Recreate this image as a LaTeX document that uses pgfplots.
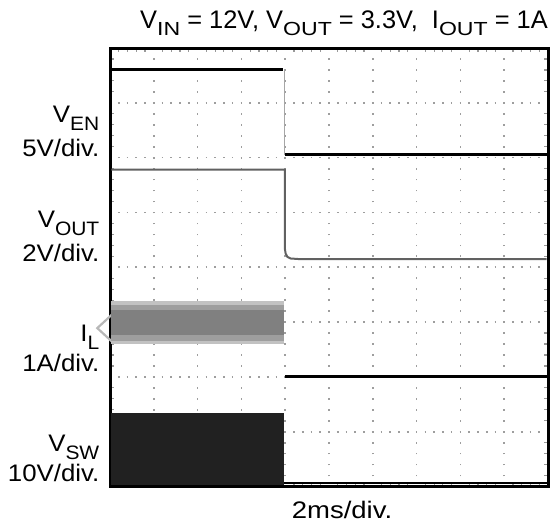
\documentclass[border=0pt]{standalone}
\usepackage{pgfplots}
\pgfplotsset{compat=1.18}
\usepackage{graphicx}
\usepackage{fontspec}
\setmainfont{Liberation Sans}
\newcommand{\lab}{\fontsize{24}{28}\selectfont}
\newcommand{\ttl}{\fontsize{25.5}{28}\selectfont}
\newcommand{\sub}[1]{\raisebox{-0.33em}{\fontsize{19.5}{20}\selectfont #1}}
\newcommand{\tsub}[1]{\raisebox{-0.24em}{\scalebox{1.22}[1]{\fontsize{19}{20}\selectfont #1}}}
\newcommand{\wide}[1]{\scalebox{1.08}[1]{#1}}
\begin{document}
\begin{tikzpicture}
\begin{axis}[
  at={(110bp,40.5bp)}, anchor=south west,
  width=438bp, height=438.5bp, scale only axis,
  xmin=0, xmax=10, ymin=0, ymax=8,
  xtick={0,...,10}, ytick={0,...,8},
  minor x tick num=4, minor y tick num=4,
  xticklabels={}, yticklabels={},
  tick align=inside, tick pos=both,
  major tick length=0pt, minor tick length=4bp,
  minor tick style={black!40, line width=1.2bp},
  grid=major,
  major x grid style={black!38, line width=1.7bp, dash pattern=on 1.7bp off 9.26bp, dash phase=0.85bp},
  major y grid style={black!38, line width=1.7bp, dash pattern=on 1.7bp off 7.06bp, dash phase=0.85bp},
  axis line style={line width=3bp, black},
  clip=false,
]
% ground marker
\addplot[black!28, line width=2.2bp] coordinates {(0.05,3.14) (-0.29,2.89) (0.05,2.64)};
% I_L band
\addplot[draw=none, fill=black!24] coordinates {(0.03,2.60) (0.03,3.38) (3.97,3.38) (3.97,2.60)};
\addplot[draw=none, fill=black!38] coordinates {(0.03,2.66) (0.03,3.32) (3.97,3.32) (3.97,2.66)};
\addplot[draw=none, fill=black!50] coordinates {(0.03,2.76) (0.03,3.22) (3.97,3.22) (3.97,2.76)};
% V_SW block
\addplot[draw=none, fill=black!87] coordinates {(0.03,0.03) (0.03,1.34) (3.97,1.34) (3.97,0.03)};
% V_SW after
\addplot[black, line width=2.5bp] coordinates {(3.97,0.06) (9.97,0.06)};
% I_L after
\addplot[black, line width=2.8bp] coordinates {(3.99,2.0) (9.97,2.0)};
% V_OUT
\addplot[black!62, line width=2bp] coordinates {(0.03,5.78) (3.99,5.78) (3.99,4.35) (4.01,4.25) (4.05,4.19) (4.12,4.16) (4.3,4.15) (9.97,4.15)};
% V_EN
\addplot[black, line width=3bp] coordinates {(0.03,7.61) (3.96,7.61)};
\addplot[black!35, line width=0.8bp] coordinates {(3.98,7.61) (3.98,6.05)};
\addplot[black, line width=3bp] coordinates {(3.99,6.05) (9.97,6.05)};
\end{axis}
\node[anchor=base east, inner sep=0] at (99.5bp,404bp) {\wide{\lab V\sub{EN}}};
\node[anchor=base east, inner sep=0] at (99.5bp,370bp) {\wide{\lab 5V/div.}};
\node[anchor=base east, inner sep=0] at (99.5bp,299bp) {\wide{\lab V\sub{OUT}}};
\node[anchor=base east, inner sep=0] at (99.5bp,265bp) {\wide{\lab 2V/div.}};
\node[anchor=base east, inner sep=0] at (99.5bp,185bp) {\wide{\lab I\sub{L}}};
\node[anchor=base east, inner sep=0] at (99.5bp,155bp) {\wide{\lab 1A/div.}};
\node[anchor=base east, inner sep=0] at (99.5bp,75bp) {\wide{\lab V\sub{SW}}};
\node[anchor=base east, inner sep=0] at (99.5bp,45bp) {\wide{\lab 10V/div.}};
\node[anchor=base east, inner sep=0] at (548bp,498bp) {\ttl V\tsub{IN} = 12V, V\tsub{OUT} = 3.3V,\ \ I\tsub{OUT} = 1A};
\node[anchor=base, inner sep=0] at (342bp,9bp) {\scalebox{1.15}[1]{\lab 2ms/div.}};
\pgfresetboundingbox
\path (0bp,0bp) rectangle (554bp,527bp);
\end{tikzpicture}
\end{document}
